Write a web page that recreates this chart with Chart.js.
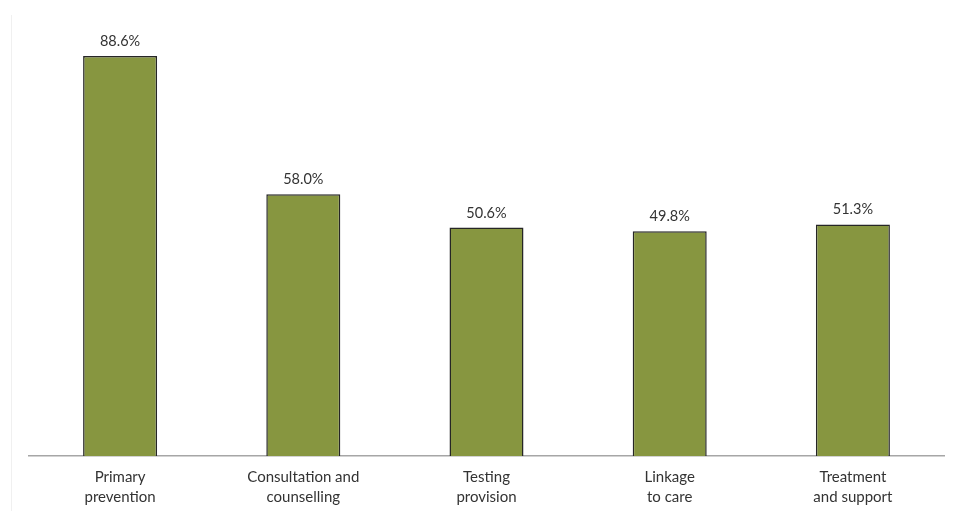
<!DOCTYPE html>
<html>
<head>
<meta charset="utf-8">
<script src="https://cdn.jsdelivr.net/npm/chart.js@4"></script>
<style>
  html, body { margin: 0; padding: 0; background: #fff; }
  #wrap { position: relative; width: 956px; height: 511px; }
  #edge { position: absolute; left: 11px; top: 15px; width: 0; height: 496px; border-left: 1px solid #f0f0f0; }
  canvas { position: absolute; left: 0; top: 0; }
</style>
</head>
<body>
<div id="wrap">
  <div id="edge"></div>
  <canvas id="c" width="956" height="511"></canvas>
</div>
<script>
const categories = [
  ["Primary", "prevention"],
  ["Consultation and", "counselling"],
  ["Testing", "provision"],
  ["Linkage", "to care"],
  ["Treatment", "and support"]
];
const values = [88.6, 58.0, 50.6, 49.8, 51.3];
const valueLabels = ["88.6%", "58.0%", "50.6%", "49.8%", "51.3%"];

const labelPlugin = {
  id: 'valueLabels',
  afterDatasetsDraw(chart) {
    const ctx = chart.ctx;
    const meta = chart.getDatasetMeta(0);
    ctx.save();
    ctx.font = '14.5px Lato, "Open Sans", sans-serif';
    ctx.fillStyle = '#333333';
    ctx.textAlign = 'center';
    ctx.textBaseline = 'alphabetic';
    meta.data.forEach((bar, i) => {
      ctx.fillText(valueLabels[i], bar.x, bar.y - 10);
    });
    ctx.restore();
  }
};

new Chart(document.getElementById('c'), {
  type: 'bar',
  data: {
    labels: categories,
    datasets: [{
      data: values,
      backgroundColor: '#879640',
      borderColor: '#262626',
      borderWidth: 1.5,
      borderSkipped: 'bottom',
      barPercentage: 0.404,
      categoryPercentage: 1.0
    }]
  },
  options: {
    responsive: false,
    animation: false,
    devicePixelRatio: 1,
    layout: { padding: { left: 28.5, right: 11.5, top: 4.5, bottom: 0 } },
    plugins: { legend: { display: false }, tooltip: { enabled: false } },
    scales: {
      y: { display: false, min: 0, max: 100 },
      x: {
        grid: { display: false },
        border: { display: true, color: '#a6a6a6', width: 1.5 },
        ticks: {
          color: '#333333',
          padding: 3,
          font: { family: 'Lato, "Open Sans", sans-serif', size: 15, lineHeight: 1.33 },
          maxRotation: 0,
          autoSkip: false
        },
        afterFit(s) { s.height = 55; }
      }
    }
  },
  plugins: [labelPlugin]
});
</script>
</body>
</html>
